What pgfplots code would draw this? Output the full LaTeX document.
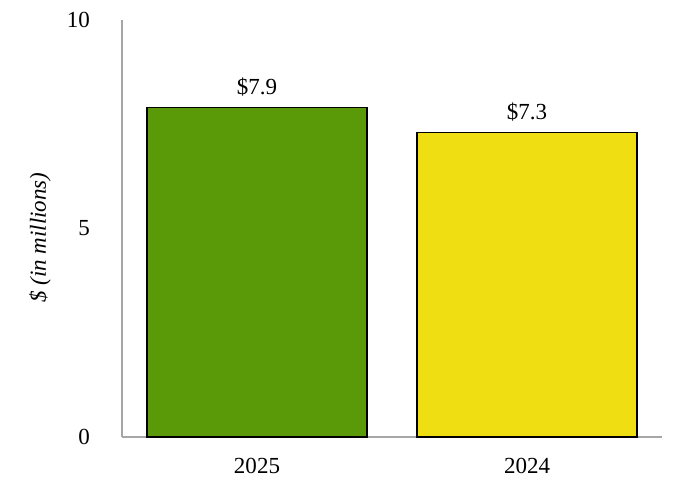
\documentclass[border=0pt]{standalone}
\usepackage{fontspec}
\setmainfont{Liberation Serif}
\usepackage{pgfplots}
\pgfplotsset{compat=1.18}
\definecolor{bargreen}{HTML}{5A9A08}
\definecolor{baryellow}{HTML}{EEDE12}
\definecolor{axisgray}{HTML}{A6A6A6}
\begin{document}
\begin{tikzpicture}
\begin{axis}[
  scale only axis, width=540pt, height=417pt,
  xmin=-0.5, xmax=1.5, ymin=0, ymax=10,
  axis x line*=bottom, axis y line*=left,
  axis line style={draw=axisgray, line width=1.5pt},
  xtick={0,1}, xticklabels={2025,2024},
  ytick={0,5,10},
  major tick length=0pt,
  tick style={draw=none},
  font=\fontsize{23}{27}\selectfont,
  /pgf/number format/assume math mode=true,
  yticklabel style={inner sep=0pt, anchor=east, xshift=-32pt},
  xticklabel style={inner sep=0pt, anchor=north, yshift=-21pt},
  ylabel={\itshape \$ (in millions)},
  ylabel style={at={([xshift=-82pt]axis description cs:0,0.478)}, anchor=center, inner sep=0pt},
  clip=false,
  nodes near coords={\$\pgfmathprintnumber[fixed, fixed zerofill, precision=1]{\pgfplotspointmeta}},
  nodes near coords style={inner sep=0pt, anchor=south, yshift=11pt, font=\fontsize{23}{27}\selectfont},
  point meta=y,
]
\addplot[ybar, bar shift=0pt, bar width=220pt, fill=bargreen, draw=black, line width=1.1pt] coordinates {(0,7.9)};
\addplot[ybar, bar shift=0pt, bar width=220pt, fill=baryellow, draw=black, line width=1.1pt] coordinates {(1,7.3)};
\path ([xshift=-122pt, yshift=-63pt]rel axis cs:0,0) rectangle ([xshift=20pt, yshift=20pt]rel axis cs:1,1);
\end{axis}
\end{tikzpicture}
\end{document}
